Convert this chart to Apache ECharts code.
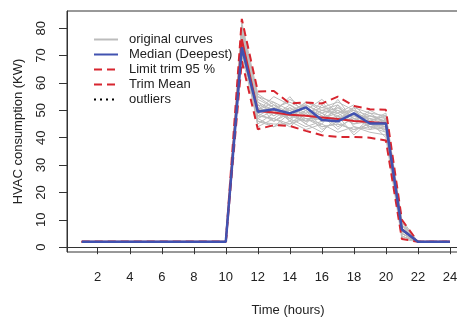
<!DOCTYPE html>
<html>
<head>
<meta charset="utf-8">
<script src="https://cdn.jsdelivr.net/npm/echarts@6/dist/echarts.min.js"></script>
<style>
html,body{margin:0;padding:0;background:#fff;}
#chart{width:457px;height:317px;}
</style>
</head>
<body>
<div id="chart"></div>
<script>
// hours 1..24
var hours = [1,2,3,4,5,6,7,8,9,10,11,12,13,14,15,16,17,18,19,20,21,22,23,24];
var xTicks = [2,4,6,8,10,12,14,16,18,20,22,24];
var yTicks = [0,10,20,30,40,50,60,70,80];

// night part of every curve (hours 1-10 and 22-24)
var nightStart = [2,2,2,2,2,2,2,2,2,2];
var nightEnd = [2,2,2];

// original curves, hours 11..21
var curves = [
	[80,55,53,50,52,49,51,47,48,46,8],
	[76,52,50,54,51,48,46,49,47,45,6],
	[72,48,47,45,47,44,45,43,44,43,5],
	[78,50,55,52,49,51,53,50,48,47,9],
	[70,46,44,46,43,45,42,44,42,41,4],
	[82,56,52,49,53,50,48,51,49,48,10],
	[74,51,49,47,50,46,48,45,46,44,7],
	[77,47,50,48,46,49,44,47,45,46,5],
	[73,53,48,51,48,47,50,46,50,47,6],
	[79,49,46,50,45,52,47,49,44,45,8],
	[75,44,47,44,49,43,46,42,47,42,4],
	[81,54,51,53,50,54,49,52,46,49,9],
	[71,50,53,46,47,45,52,44,43,44,5],
	[76,45,49,48,51,48,43,48,45,43,7],
	[78,52,46,49,46,50,49,45,48,46,6],
	[72,48,51,47,44,46,51,47,44,42,5],
	[80,51,48,52,48,53,47,50,46,48,8],
	[74,46,45,45,50,44,45,43,45,44,4],
	[77,53,50,50,47,47,54,46,49,45,7],
	[75,49,52,47,52,49,46,51,43,47,6],
	[73,47,44,49,45,42,48,41,46,40,3],
	[79,55,51,46,53,51,50,48,47,46,9],
	[76,50,49,55,48,50,52,47,45,44,6],
	[74,48,47,51,46,47,49,50,44,46,5]
];

var median = [2,2,2,2,2,2,2,2,2,2,73,49.5,50.4,48.9,51.1,46.5,46,48.9,45.2,45.2,6.5,2,2,2];
var trimMean = [2,2,2,2,2,2,2,2,2,2,76,49.8,49.2,48.4,48,47.4,46.8,46.1,45.7,45.3,6.5,2,2,2];
var limitUpper = [2,2,2,2,2,2,2,2,2,2,83.4,56.9,57.1,52.5,52.9,52.5,55,51.6,50.4,50.2,10,2,2,2];
var limitLower = [2,2,2,2,2,2,2,2,2,2,68,43.1,44.6,44.3,42.5,40.9,40.3,40.3,40,39,3,2,2,2];

function pairs(vals){
	var out = [];
	for (var i = 0; i < hours.length; i++) out.push([hours[i], vals[i]]);
	return out;
}

var chart = echarts.init(document.getElementById('chart'));
var font = 'Liberation Sans, Arial, sans-serif';
var red = '#d7252f';
var blue = '#4152b0';

var series = [];
curves.forEach(function(c){
	series.push({
		name:'original curves',
		type:'line',
		symbol:'none',
		silent:true,
		lineStyle:{color:'#bcbcbc',width:1},
		data:pairs(nightStart.concat(c, nightEnd))
	});
});
series.push({
	name:'Limit trim 95 %', type:'line', symbol:'none',
	lineStyle:{color:red,width:2,type:[8,5]},
	data:pairs(limitUpper)
});
series.push({
	name:'Limit trim 95 %', type:'line', symbol:'none',
	lineStyle:{color:red,width:2,type:[8,5]},
	data:pairs(limitLower)
});
series.push({
	name:'Trim Mean', type:'line', symbol:'none',
	lineStyle:{color:red,width:2},
	data:pairs(trimMean)
});
series.push({
	name:'Median (Deepest)', type:'line', symbol:'none',
	lineStyle:{color:blue,width:2.5},
	data:pairs(median)
});
series.push({
	name:'outliers', type:'line', symbol:'none',
	lineStyle:{color:'#000',width:1.5,type:[2,4]},
	data:[]
});

var option = {
	animation:false,
	textStyle:{fontFamily:font},
	legend:{
		orient:'vertical',
		left:88,
		top:28,
		itemWidth:24,
		itemHeight:12,
		itemGap:2,
		itemStyle:{opacity:0},
		textStyle:{fontSize:13,color:'#222',fontFamily:font,padding:[0,0,0,6]},
		data:[
			'original curves',
			'Median (Deepest)',
			'Limit trim 95 %',
			{name:'Trim Mean',lineStyle:{type:[8,5]}},
			'outliers'
		]
	},
	grid:{
		show:true,
		left:67,
		top:11,
		right:-52,
		bottom:65,
		outerBoundsMode:'none',
		containLabel:false,
		borderColor:'#333',
		borderWidth:1
	},
	xAxis:{
		type:'value',
		min:0.08,
		max:27.69,
		name:'Time (hours)',
		nameLocation:'middle',
		nameGap:52,
		nameTextStyle:{fontSize:13,color:'#222'},
		axisLine:{show:true,lineStyle:{color:'#333'}},
		axisTick:{show:true,length:7,customValues:xTicks,lineStyle:{color:'#333'}},
		axisLabel:{fontSize:13,color:'#222',margin:18.5,customValues:xTicks},
		splitLine:{show:false}
	},
	yAxis:{
		type:'value',
		min:-1.76,
		max:86.3,
		name:'HVAC consumption (KW)',
		nameLocation:'middle',
		nameGap:42,
		nameTextStyle:{fontSize:13,color:'#222'},
		axisLine:{show:true,lineStyle:{color:'#333'}},
		axisTick:{show:true,length:8,customValues:yTicks,lineStyle:{color:'#333'}},
		axisLabel:{fontSize:13,color:'#222',margin:19,rotate:90,customValues:yTicks},
		splitLine:{show:false}
	},
	series:series
};
chart.setOption(option);
</script>
</body>
</html>
